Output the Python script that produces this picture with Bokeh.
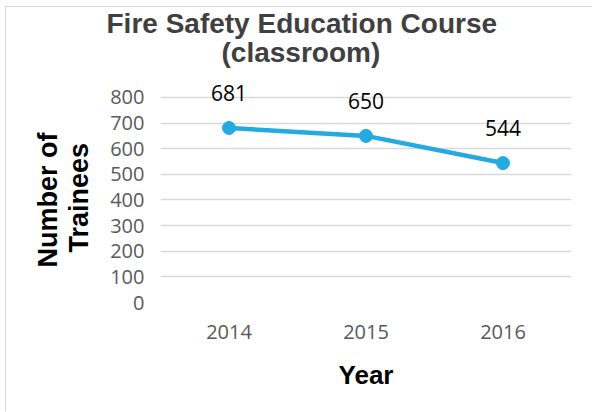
from bokeh.plotting import figure
from bokeh.models import (FactorRange, Range1d, FixedTicker, ColumnDataSource,
                          LabelSet, Title)
from bokeh.core.properties import value
from bokeh.embed import file_html
from bokeh.resources import INLINE

years = ["2014", "2015", "2016"]
trainees = [681, 650, 544]
y_ticks = [0, 100, 200, 300, 400, 500, 600, 700, 800]
title_line1 = "Fire Safety Education Course"
title_line2 = "(classroom)"
x_title = "Year"
y_title_line1 = "Number of"
y_title_line2 = "Trainees"

BLUE = "#25A9E1"
GRID = "#d9d9d9"

src = ColumnDataSource(data=dict(year=years, n=trainees,
                                 lbl=[str(v) for v in trainees]))

p = figure(width=587, height=405, output_backend="svg", toolbar_location=None,
           x_range=FactorRange(factors=years, range_padding=0),
           y_range=Range1d(0, 870),
           min_border_left=154, min_border_right=22,
           min_border_top=72, min_border_bottom=110,
           styles={"margin-left": "5px", "margin-top": "6px",
                   "border-left": "1px solid #d9d9d9",
                   "border-top": "1px solid #d9d9d9"})
p.title = None
p.outline_line_color = None
p.background_fill_color = "white"
p.border_fill_color = "white"

# grid
p.xgrid.grid_line_color = None
p.ygrid.grid_line_color = GRID
p.ygrid.grid_line_width = 1.5
p.yaxis.ticker = FixedTicker(ticks=y_ticks)

# axes
for ax in (p.xaxis, p.yaxis):
    ax.axis_line_color = None
    ax.major_tick_line_color = None
    ax.minor_tick_line_color = None
    ax.major_tick_out = 0
    ax.major_tick_in = 0
    ax.major_label_text_font = "Open Sans"
    ax.major_label_text_font_size = "20px"
    ax.major_label_text_color = "#595959"
    ax.axis_label_text_font = "Liberation Sans"
    ax.axis_label_text_font_style = "bold"
    ax.axis_label_text_font_size = "26px"
    ax.axis_label_text_color = "#000000"

p.xaxis.axis_label = x_title
p.xaxis.major_label_standoff = 22
p.yaxis.major_label_standoff = 16
p.xaxis.axis_label_standoff = 18

# y axis title as two left-side titles (closest first)
for txt, off, so in ((y_title_line2, 50, 28), (y_title_line1, 35, -30)):
    p.add_layout(Title(text=txt, align="left", offset=off, standoff=so,
                       text_font="Liberation Sans", text_font_style="bold",
                       text_font_size="27px", text_color="#000000"), "left")

# chart title (closest to the plot first)
for txt, off, so in ((title_line2, 61, 24), (title_line1, -54, -33)):
    p.add_layout(Title(text=txt, align="left", offset=off, standoff=so,
                       text_font="Liberation Sans", text_font_style="bold",
                       text_font_size="28px", text_color="#404040"), "above")

# data
p.line(x="year", y="n", source=src, line_width=4.5, color=BLUE)
p.scatter(x="year", y="n", source=src, size=13, color=BLUE)

labels = LabelSet(x="year", y="n", text="lbl", source=src,
                  text_align="center", text_baseline="alphabetic",
                  y_offset=27, text_font=value("Open Sans"),
                  text_font_size=value("21px"), text_color="#000000")
p.add_layout(labels)

open("out.html", "w").write(file_html(p, INLINE))
